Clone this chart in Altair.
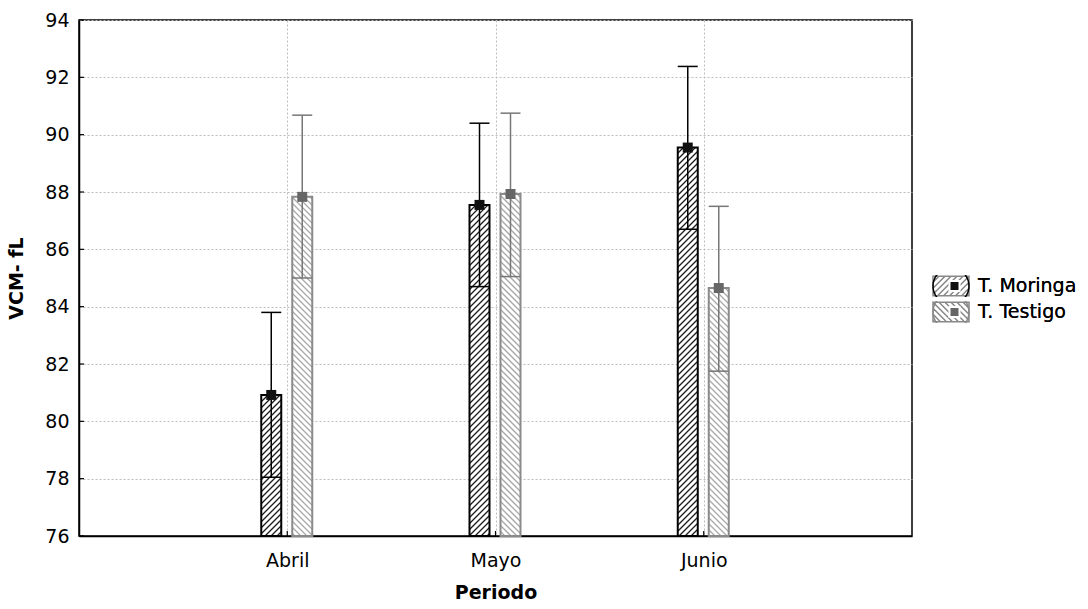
import math
import altair as alt
import pandas as pd

# ---------------- data ----------------
periods = ["Abril", "Mayo", "Junio"]
series = ["T. Moringa", "T. Testigo"]
mean_moringa = [80.92, 87.55, 89.55]
low_moringa = [78.05, 84.70, 86.70]
high_moringa = [83.80, 90.40, 92.38]
mean_testigo = [87.83, 87.93, 84.65]
low_testigo = [85.00, 85.05, 81.75]
high_testigo = [90.68, 90.75, 87.50]
y_ticks = [76, 78, 80, 82, 84, 86, 88, 90, 92, 94]

# ---------------- layout / style ----------------
W, H = 833, 516
X0, X1 = 0, 4
Y0, Y1 = 76, 94
PXX = W / (X1 - X0)
PXY = H / (Y1 - Y0)
FONT = "DejaVu Sans"

style = {
    "T. Moringa": dict(off=-16, dir=1, hatch="#1a1a1a", outline="#000000",
                       err="#000000", mark="#111111"),
    "T. Testigo": dict(off=15, dir=-1, hatch="#a8a8a8", outline="#8a8a8a",
                       err="#777777", mark="#666666"),
}
HALF_W = 10      # px
HATCH_STEP = 6   # px

means = {"T. Moringa": mean_moringa, "T. Testigo": mean_testigo}
lows = {"T. Moringa": low_moringa, "T. Testigo": low_testigo}
highs = {"T. Moringa": high_moringa, "T. Testigo": high_testigo}

rows, hatch = [], []
for i, p in enumerate(periods):
    pos = i + 1
    for s in series:
        st = style[s]
        cx = pos + st["off"] / PXX
        xl = cx - HALF_W / PXX
        xr = cx + HALF_W / PXX
        m = means[s][i]
        rows.append(dict(period=p, series=s, series_sq=s + " ", cx=cx, xl=xl, xr=xr,
                         base=Y0, mean=m, low=lows[s][i], high=highs[s][i],
                         outline=st["outline"], err=st["err"], mark=st["mark"]))
        # hatch segments, computed in pixel space then mapped back to data
        xlp, xrp = xl * PXX, xr * PXX
        ytp, ybp = (Y1 - m) * PXY, (Y1 - Y0) * PXY
        if st["dir"] == 1:  # "/" : x + y = c
            c = math.ceil((xlp + ytp) / HATCH_STEP) * HATCH_STEP
            while c <= xrp + ybp:
                xa, xb = max(xlp, c - ybp), min(xrp, c - ytp)
                if xb > xa:
                    hatch.append(dict(series=s, col=st["hatch"],
                                      x=xa / PXX, x2=xb / PXX,
                                      y=Y1 - (c - xa) / PXY, y2=Y1 - (c - xb) / PXY))
                c += HATCH_STEP
        else:  # "\" : y = x + c
            c = math.ceil((ytp - xrp) / HATCH_STEP) * HATCH_STEP
            while c <= ybp - xlp:
                xa, xb = max(xlp, ytp - c), min(xrp, ybp - c)
                if xb > xa:
                    hatch.append(dict(series=s, col=st["hatch"],
                                      x=xa / PXX, x2=xb / PXX,
                                      y=Y1 - (xa + c) / PXY, y2=Y1 - (xb + c) / PXY))
                c += HATCH_STEP

df = pd.DataFrame(rows)
hdf = pd.DataFrame(hatch)
ytick_df = pd.DataFrame({"v": y_ticks, "x": X0, "x2": X0 + 5 / PXX})
xtick_df = pd.DataFrame({"p": list(range(1, len(periods) + 1)), "y": Y0, "y2": Y0 + 5 / PXY})


def legend_path(direction):
    hx, hy = 1.0, 0.54
    parts = [f"M{-hx},{-hy}L{hx},{-hy}L{hx},{hy}L{-hx},{hy}Z"]
    step = HATCH_STEP / 18.0
    c = -hx - hy
    while c <= hx + hy:
        if direction == 1:   # x + y = c  (y down)
            xa, xb = max(-hx, c - hy), min(hx, c + hy)
            if xb > xa:
                parts.append(f"M{xa:.3f},{c - xa:.3f}L{xb:.3f},{c - xb:.3f}")
        else:                # y = x + c
            xa, xb = max(-hx, -hy - c), min(hx, hy - c)
            if xb > xa:
                parts.append(f"M{xa:.3f},{xa + c:.3f}L{xb:.3f},{xb + c:.3f}")
        c += step
    return "".join(parts)


xs = alt.Scale(domain=[X0, X1], nice=False, zero=False)
ys = alt.Scale(domain=[Y0, Y1], nice=False, zero=False)
label_expr = "['', " + ", ".join(f"'{p}'" for p in periods) + "][datum.value]"

x_axis = alt.Axis(values=list(range(1, len(periods) + 1)), labelExpr=label_expr,
                  title="Periodo", ticks=False, tickSize=0, labelPadding=15,
                  titleY=47, grid=True)
y_axis = alt.Axis(values=y_ticks, title="VCM- fL", ticks=False, tickSize=0,
                  labelPadding=10, titleX=-57, titleY=H / 2,
                  titleBaseline="alphabetic", grid=True)

base = alt.Chart(df)

bars_white = base.mark_rect(fill="white", stroke=None).encode(
    x=alt.X("xl:Q", scale=xs, axis=x_axis), x2="xr:Q",
    y=alt.Y("base:Q", scale=ys, axis=y_axis), y2="mean:Q")

hatch_layer = alt.Chart(hdf).mark_rule(strokeWidth=1.3, strokeCap="butt").encode(
    x=alt.X("x:Q", scale=xs), x2="x2:Q",
    y=alt.Y("y:Q", scale=ys), y2="y2:Q",
    color=alt.Color("col:N", scale=None))

err_line = base.mark_rule(strokeWidth=1.5).encode(
    x=alt.X("cx:Q", scale=xs), y=alt.Y("low:Q", scale=ys), y2="high:Q",
    color=alt.Color("err:N", scale=None))

outline = base.mark_rect(fillOpacity=0, strokeWidth=2).encode(
    x=alt.X("xl:Q", scale=xs), x2="xr:Q",
    y=alt.Y("base:Q", scale=ys), y2="mean:Q",
    stroke=alt.Stroke("outline:N", scale=None))

cap_low = base.mark_rule(strokeWidth=1.5).encode(
    x=alt.X("xl:Q", scale=xs), x2="xr:Q", y=alt.Y("low:Q", scale=ys),
    color=alt.Color("err:N", scale=None))
cap_high = base.mark_rule(strokeWidth=1.5).encode(
    x=alt.X("xl:Q", scale=xs), x2="xr:Q", y=alt.Y("high:Q", scale=ys),
    color=alt.Color("err:N", scale=None))

squares = base.mark_square(size=100, opacity=1).encode(
    x=alt.X("cx:Q", scale=xs), y=alt.Y("mean:Q", scale=ys),
    color=alt.Color("mark:N", scale=None))

ytick_layer = alt.Chart(ytick_df).mark_rule(color="black", strokeWidth=1.2).encode(
    x=alt.X("x:Q", scale=xs), x2="x2:Q", y=alt.Y("v:Q", scale=ys))
xtick_layer = alt.Chart(xtick_df).mark_rule(color="black", strokeWidth=1.2).encode(
    x=alt.X("p:Q", scale=xs), y=alt.Y("y:Q", scale=ys), y2="y2:Q")

LEG_X, LEG_Y = 853, 255
leg = alt.Legend(orient="none", legendX=LEG_X, legendY=LEG_Y, title=None,
                 symbolSize=1296, symbolStrokeWidth=1.5, clipHeight=22,
                 rowPadding=4, labelFont=FONT, labelFontSize=19,
                 labelColor="black", labelOffset=8, zindex=0)
legend_layer = base.mark_point(filled=False, opacity=0).encode(
    x=alt.X("cx:Q", scale=xs), y=alt.Y("mean:Q", scale=ys),
    shape=alt.Shape("series:N", scale=alt.Scale(
        domain=series, range=[legend_path(1), legend_path(-1)]), legend=leg),
    stroke=alt.Stroke("series:N", scale=alt.Scale(
        domain=series, range=["#000000", "#8a8a8a"]), legend=leg))

leg_sq = alt.Legend(orient="none", legendX=LEG_X + 13, legendY=LEG_Y, title=None,
                    symbolType="square", symbolSize=100, symbolStrokeColor="white",
                    symbolStrokeWidth=2, clipHeight=22, rowPadding=4,
                    labelExpr="''", labelFontSize=19, labelFont=FONT, zindex=2)
legend_sq_layer = base.mark_square(opacity=0).encode(
    x=alt.X("cx:Q", scale=xs), y=alt.Y("mean:Q", scale=ys),
    fill=alt.Fill("series_sq:N", scale=alt.Scale(
        domain=[s + " " for s in series], range=["#111111", "#666666"]), legend=leg_sq))

chart = alt.layer(
    bars_white, hatch_layer, err_line, outline, cap_low, cap_high, squares,
    ytick_layer, xtick_layer, legend_layer, legend_sq_layer
).resolve_scale(color="independent", stroke="independent").properties(
    width=W, height=H,
    autosize=alt.AutoSizeParams(type="none"),
    padding={"left": 79, "top": 20, "right": 1088 - 79 - W, "bottom": 609 - 20 - H},
    background="white",
).configure_view(stroke="black", strokeWidth=1.5).configure_axis(
    labelFont=FONT, labelFontSize=19, labelColor="black",
    titleFont=FONT, titleFontSize=19, titleFontWeight="bold", titleColor="black",
    domainColor="black", domainWidth=1.5,
    gridColor="#bdbdbd", gridDash=[2, 2], gridWidth=1,
)

chart.save("out.html", embed_options={"renderer": "svg", "actions": False})
